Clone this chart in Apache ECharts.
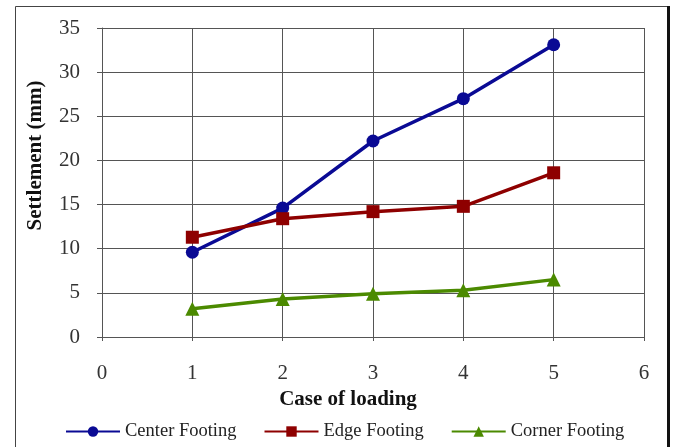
<!DOCTYPE html>
<html>
<head>
<meta charset="utf-8">
<script src="https://cdn.jsdelivr.net/npm/echarts@6/dist/echarts.min.js"></script>
<style>
  html, body { margin: 0; padding: 0; background: #fff; }
  #chart { width: 677px; height: 447px; }
</style>
</head>
<body>
<div id="chart"></div>
<script>
// Loading cases and measured settlements (mm)
const loadCases = [1, 2, 3, 4, 5];
const centerFooting = [9.6, 14.6, 22.2, 27.0, 33.1];
const edgeFooting = [11.3, 13.4, 14.2, 14.8, 18.6];
const cornerFooting = [3.2, 4.3, 4.9, 5.3, 6.5];

const FONT = '"Liberation Serif", "Times New Roman", serif';

function pairs(values) {
  return loadCases.map((c, i) => [c, values[i]]);
}

const chart = echarts.init(document.getElementById('chart'));

chart.setOption({
  backgroundColor: '#fff',
  animation: false,
  textStyle: { fontFamily: FONT },
  graphic: [
    {
      type: 'rect',
      shape: { x: 15.5, y: 6.5, width: 653, height: 460 },
      style: { fill: 'none', stroke: '#444', lineWidth: 1 },
      silent: true
    },
    {
      type: 'rect',
      shape: { x: 667, y: 6, width: 3, height: 460 },
      style: { fill: '#111' },
      silent: true
    }
  ],
  grid: { left: 102, right: 33, top: 28, bottom: 110, containLabel: false },
  legend: {
    bottom: 1,
    left: 60,
    itemWidth: 54,
    itemHeight: 13,
    itemGap: 27,
    textStyle: { fontFamily: FONT, fontSize: 18.5, color: '#222' },
    data: ['Center Footing', 'Edge Footing', 'Corner Footing']
  },
  xAxis: {
    type: 'value',
    min: 0, max: 6, interval: 1,
    name: 'Case of loading',
    nameLocation: 'middle',
    nameGap: 52,
    nameTextStyle: {
      fontFamily: FONT, fontSize: 21, fontWeight: 'bold', color: '#111',
      padding: [0, 50, 0, 0]
    },
    axisLine: { show: true, lineStyle: { color: '#555', width: 1 } },
    axisTick: { show: true, length: 4, lineStyle: { color: '#555' } },
    axisLabel: { fontFamily: FONT, fontSize: 21, color: '#333', margin: 26 },
    splitLine: { show: true, lineStyle: { color: '#555', width: 1 } }
  },
  yAxis: {
    type: 'value',
    min: 0, max: 35, interval: 5,
    name: 'Settlement (mm)',
    nameLocation: 'middle',
    nameGap: 56,
    nameTextStyle: {
      fontFamily: FONT, fontSize: 21, fontWeight: 'bold', color: '#111',
      padding: [0, 0, 0, 54]
    },
    axisLine: { show: true, lineStyle: { color: '#555', width: 1 } },
    axisTick: { show: true, length: 5, lineStyle: { color: '#555' } },
    axisLabel: { fontFamily: FONT, fontSize: 21, color: '#333', margin: 22 },
    splitLine: { show: true, lineStyle: { color: '#555', width: 1 } }
  },
  series: [
    {
      name: 'Center Footing',
      type: 'line',
      data: pairs(centerFooting),
      symbol: 'circle',
      symbolSize: 13,
      color: '#0a0a94',
      lineStyle: { width: 3.5, color: '#0a0a94' },
      itemStyle: { color: '#0a0a94' }
    },
    {
      name: 'Edge Footing',
      type: 'line',
      data: pairs(edgeFooting),
      symbol: 'rect',
      symbolSize: 13,
      color: '#8e0000',
      lineStyle: { width: 3.5, color: '#8e0000' },
      itemStyle: { color: '#8e0000' }
    },
    {
      name: 'Corner Footing',
      type: 'line',
      data: pairs(cornerFooting),
      symbol: 'triangle',
      symbolSize: 14,
      color: '#4b8a00',
      lineStyle: { width: 3.5, color: '#4b8a00' },
      itemStyle: { color: '#4b8a00' }
    }
  ]
});
</script>
</body>
</html>
